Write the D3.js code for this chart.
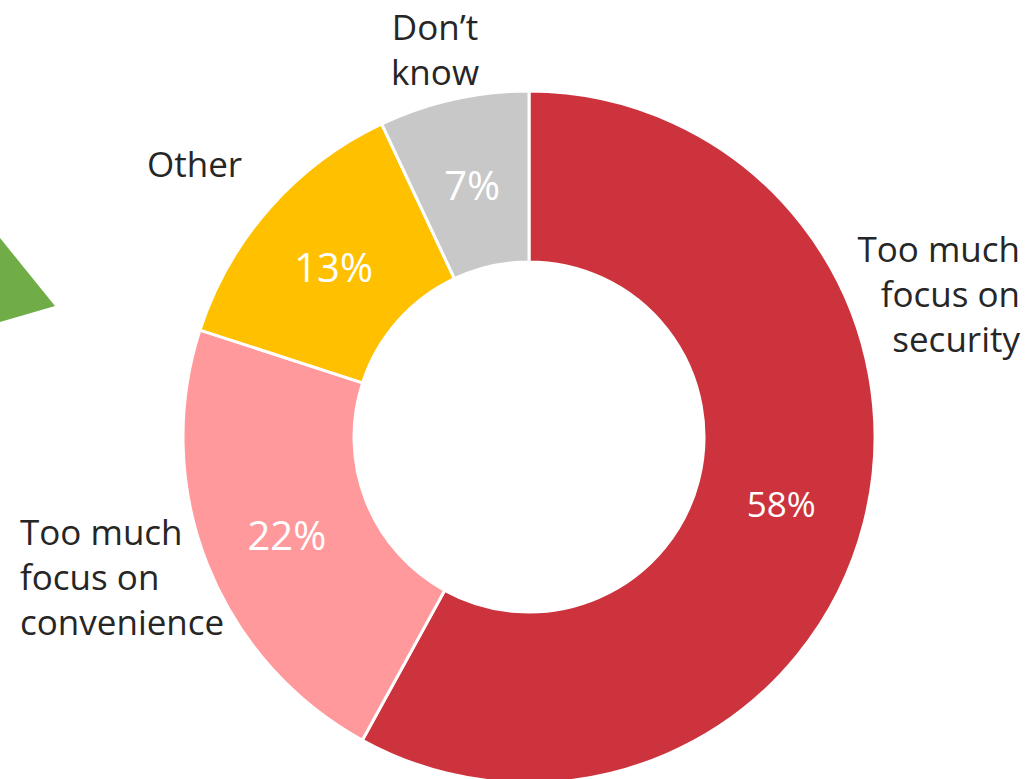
<!DOCTYPE html>
<html>
<head>
<meta charset="utf-8">
<script src="https://cdn.jsdelivr.net/npm/d3@7"></script>
<style>
  html, body { margin: 0; padding: 0; background: #ffffff; }
  svg { display: block; }
  text { font-family: "Open Sans", "Noto Sans", sans-serif; }
</style>
</head>
<body>
<svg id="chart" width="1025" height="779"></svg>
<script>
// Survey answers: balance between security and convenience
const categories = ["Too much focus on security", "Too much focus on convenience", "Other", "Don\u2019t know"];
const values = [58, 22, 13, 7];
const colors = ["#CC333D", "#FF999C", "#FFC000", "#C8C8C8"];
// Category labels, broken into lines
const labelLines = [
  ["Too much", "focus on", "security"],
  ["Too much", "focus on", "convenience"],
  ["Other"],
  ["Don\u2019t", "know"]
];

const cx = 529, cy = 437;
const outerR = 346, innerR = 175;
const catFontSize = 35, lineH = 45;
// Font size of each slice's percent label
const pctFontSize = [35, 40, 40, 40];

const svg = d3.select("#chart");

// Green arrow fragment at the left edge
svg.append("polygon")
  .attr("points", "0,238 55,306 0,322")
  .attr("fill", "#70AD47");

const pie = d3.pie().sort(null).value(d => d);
const arcs = pie(values);
const arc = d3.arc().innerRadius(innerR).outerRadius(outerR);

const g = svg.append("g").attr("transform", `translate(${cx},${cy})`);

g.selectAll("path.slice")
  .data(arcs)
  .join("path")
  .attr("class", "slice")
  .attr("d", arc)
  .attr("fill", (d, i) => colors[i])
  .attr("stroke", "#ffffff")
  .attr("stroke-width", 3)
  .attr("stroke-linejoin", "miter");

// Percent labels at slice centroids (baseline set so the digits sit centred)
g.selectAll("text.pct")
  .data(arcs)
  .join("text")
  .attr("class", "pct")
  .attr("x", d => arc.centroid(d)[0])
  .attr("y", (d, i) => arc.centroid(d)[1] + 0.36 * pctFontSize[i] + 3)
  .attr("text-anchor", "middle")
  .attr("fill", "#ffffff")
  .attr("font-size", (d, i) => pctFontSize[i])
  .text(d => d.data + "%");

// Category label placement (anchor point of first baseline, alignment)
const labelPlace = [
  { x: 1020, y: 262, anchor: "end" },
  { x: 20, y: 545, anchor: "start" },
  { x: 147, y: 177, anchor: "start" },
  { x: 435, y: 40, anchor: "middle" }
];

categories.forEach((c, i) => {
  const p = labelPlace[i];
  const t = svg.append("text")
    .attr("class", "cat")
    .attr("x", p.x)
    .attr("y", p.y)
    .attr("text-anchor", p.anchor)
    .attr("fill", "#262626")
    .attr("font-size", catFontSize);
  labelLines[i].forEach((line, k) => {
    t.append("tspan").attr("x", p.x).attr("y", p.y + k * lineH).text(line);
  });
});
</script>
</body>
</html>
